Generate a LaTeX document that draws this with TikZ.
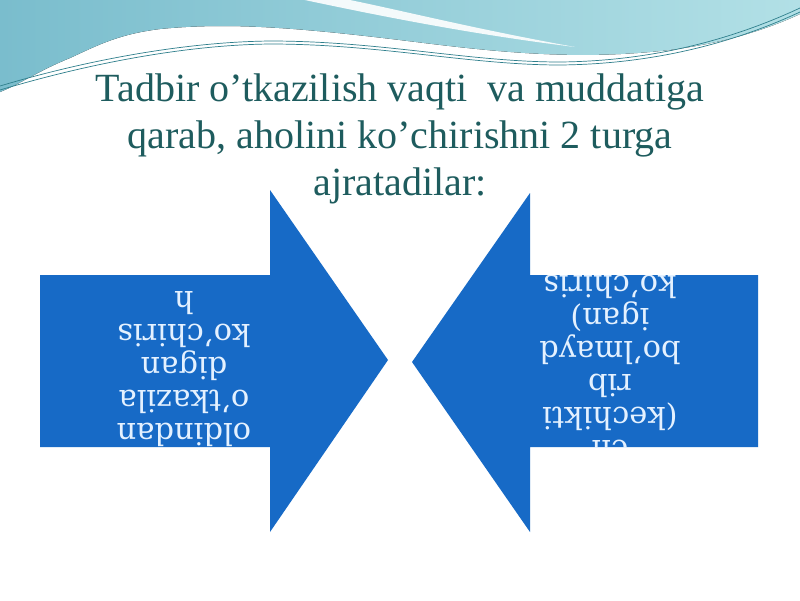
\documentclass[tikz,border=0pt]{standalone}
\usepackage{fontspec}
\setmainfont{Liberation Serif}
\newfontfamily\arrowfont{DejaVu Serif}
\definecolor{wavel}{HTML}{7ABDCD}
\definecolor{waver}{HTML}{B2E0E6}
\definecolor{waveline}{HTML}{2F7F8C}
\definecolor{titlecol}{HTML}{1E5C5E}
\definecolor{arrowblue}{HTML}{176AC6}
\definecolor{arrowtext}{HTML}{E4F1FF}
\tikzset{
  bigarrow/.style={fill=arrowblue},
  arrowtxt/.style={text=arrowtext, font=\arrowfont\fontsize{30.5}{33}\selectfont, align=center, inner sep=0pt, rotate=180},
  titletxt/.style={text=titlecol, font=\fontsize{40}{47}\selectfont, anchor=base, inner sep=0pt},
  waveln/.style={draw=waveline, line width=0.7pt}
}
\begin{document}
\begin{tikzpicture}[x=1pt,y=-1pt]
\fill[white] (0,0) rectangle (800,600);
\useasboundingbox (0,0) rectangle (800,600);
% top wave
\fill[left color=wavel, right color=waver] (0,0) -- (0,92) .. controls (20,84) and (40,70) .. (70,58) .. controls (100,44) and (120,34) .. (160,29) .. controls (230,22) and (300,28) .. (400,40) .. controls (480,50) and (560,60) .. (650,52) .. controls (720,46) and (770,28) .. (800,14) -- (800,0) -- cycle;
\fill[white, opacity=0.9] (300,-1) .. controls (380,16) and (470,34) .. (575,47) .. controls (470,28) and (400,10) .. (345,-1) -- cycle;
\draw[waveln] (0,86) .. controls (80,62) and (180,42) .. (270,41) .. controls (380,41) and (470,62) .. (560,62) .. controls (660,61) and (740,36) .. (800,8);
\draw[waveln] (0,90) .. controls (80,66) and (180,45) .. (270,44) .. controls (380,44) and (470,65) .. (560,65) .. controls (660,64) and (740,40) .. (800,12);
% title
\node[titletxt] (title1) at (400,101.5) {Tadbir o’tkazilish vaqti\ \ va muddatiga};
\node[titletxt] (title2) at (400,148.5) {qarab, aholini ko’chirishni 2 turga};
\node[titletxt] (title3) at (400,195.5) {ajratadilar:};
% left arrow
\fill[bigarrow] (40,275) -- (270,275) -- (270,190) -- (388,360) -- (270,532) -- (270,447) -- (40,447) -- cycle;
\node[arrowtxt] (lefttext) at (184,369) {oldindan\\o’tkazila\\digan\\ko’chiris\\h};
% right arrow
\fill[bigarrow] (758,275) -- (530,275) -- (530,193) -- (412,362) -- (530,532) -- (530,447) -- (758,447) -- cycle;
\begin{scope}
\clip (758,275) -- (530,275) -- (530,193) -- (412,362) -- (530,532) -- (530,447) -- (758,447) -- cycle;
\node[arrowtxt] (righttext) at (610,369) {ch\\(kechikti\\rib\\bo’lmayd\\igan)\\ko’chiris};
\end{scope}
\end{tikzpicture}
\end{document}
